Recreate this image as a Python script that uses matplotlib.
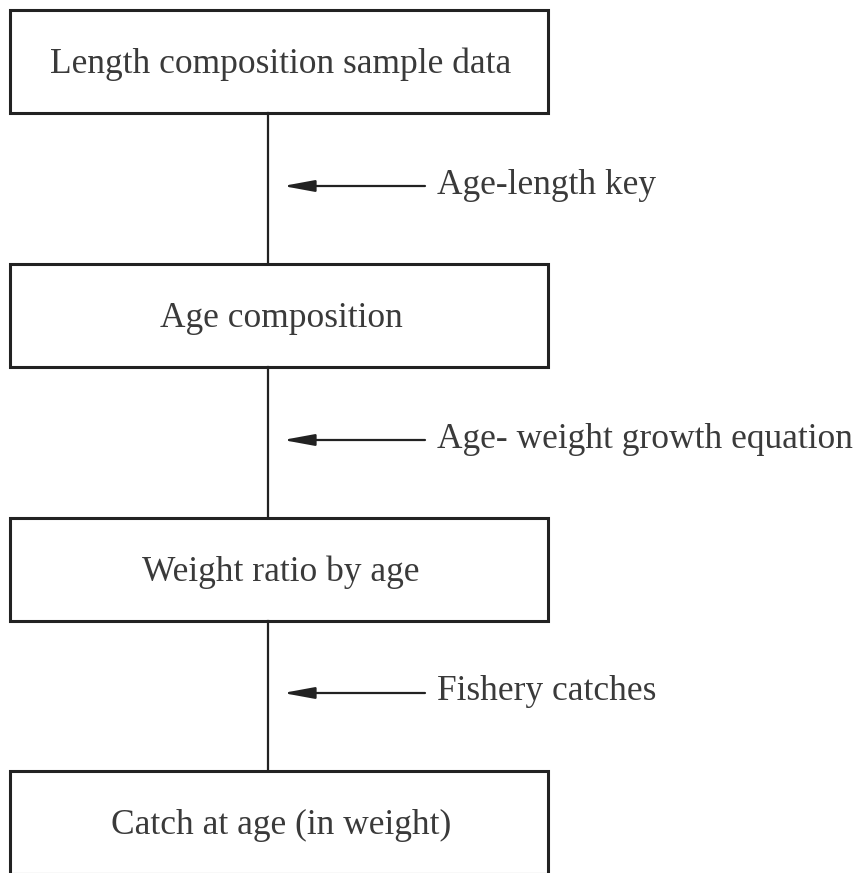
import matplotlib.pyplot as plt
from matplotlib.patches import Rectangle

# Flowchart content (top to bottom)
box_labels = ['Length composition sample data', 'Age composition',
              'Weight ratio by age', 'Catch at age (in weight)']
box_tops = [10, 264, 518, 771]
box_height = 103
box_left, box_right = 10, 548

step_labels = ['Age-length key', 'Age- weight growth equation', 'Fishery catches']
step_y = [186, 440, 693]

W, H = 866, 873
fig = plt.figure(figsize=(W / 100, H / 100), dpi=100)
ax = fig.add_axes([0, 0, 1, 1])
ax.set_xlim(0, W)
ax.set_ylim(H, 0)
ax.axis('off')

font = dict(family='Liberation Serif', color='#3a3a3a')
line_x = 268

for label, top in zip(box_labels, box_tops):
    ax.add_patch(Rectangle((box_left, top), box_right - box_left, box_height,
                           fill=False, edgecolor='#222222', linewidth=2.2))
    ax.text((box_left + box_right) / 2 + 2, top + box_height / 2 + 3, label,
            ha='center', va='center', fontsize=25.5, **font)

# vertical connectors between boxes
for i in range(len(box_tops) - 1):
    ax.plot([line_x, line_x], [box_tops[i] + box_height, box_tops[i + 1]],
            color='#222222', linewidth=1.6)

# side arrows with their labels
for label, y in zip(step_labels, step_y):
    ax.annotate('', xy=(283, y), xytext=(425, y),
                arrowprops=dict(arrowstyle='-|>,head_length=1.9,head_width=0.35',
                                color='#222222', linewidth=1.6,
                                shrinkA=0, shrinkB=0))
    ax.text(437, y - 1, label, ha='left', va='center', fontsize=25.5, **font)

fig.savefig('out.png', dpi=100)
